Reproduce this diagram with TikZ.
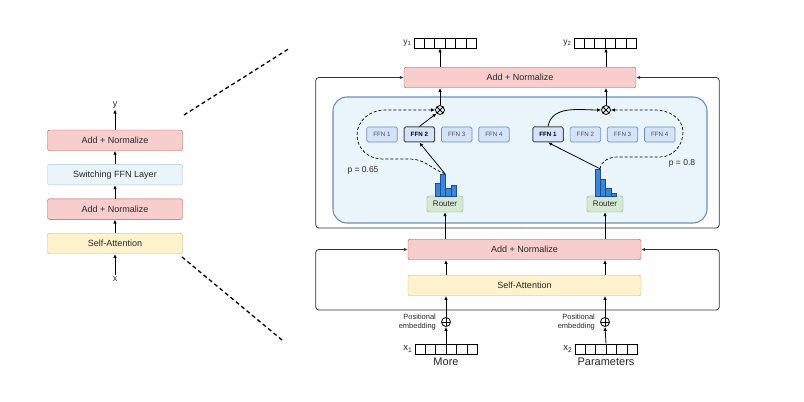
\documentclass[tikz,border=0pt]{standalone}
\usepackage{fontspec}
\setmainfont{Liberation Sans}
\usetikzlibrary{arrows.meta,positioning,calc}
\definecolor{normfill}{HTML}{F8CECC}
\definecolor{normline}{HTML}{B85450}
\definecolor{attnfill}{HTML}{FFF2CC}
\definecolor{attnline}{HTML}{D6B656}
\definecolor{switchfill}{HTML}{EAF4FB}
\definecolor{switchline}{HTML}{A9C4E0}
\definecolor{ffnfill}{HTML}{D4E3F8}
\definecolor{ffnline}{HTML}{6C8EBF}
\definecolor{moefill}{HTML}{E9F5FB}
\definecolor{routerfill}{HTML}{D5E8D4}
\definecolor{routerline}{HTML}{82B366}
\definecolor{barfill}{HTML}{3A86DC}
\definecolor{barline}{HTML}{1F4E8C}

\begin{document}
\begin{tikzpicture}[x=1pt, y=1pt, >={Latex[length=4pt,width=3.5pt]}, node distance=13.5pt,
 every node/.style={font=\fontsize{9}{10.5}\selectfont, align=center, inner sep=1pt, text=black!85},
 norm/.style={draw=normline, fill=normfill, rounded corners=2pt, minimum height=20.5pt},
 attn/.style={draw=attnline, fill=attnfill, rounded corners=2pt, minimum height=20.5pt},
 switch/.style={draw=switchline, fill=switchfill, rounded corners=2pt, minimum height=20.5pt},
 stack/.style={minimum width=135pt},
 ffn/.style={draw=ffnline, fill=ffnfill, line width=0.7pt, rounded corners=1.5pt, minimum width=30.5pt, minimum height=15pt, font=\fontsize{6.2}{7}\selectfont, text=black!70},
 ffnsel/.style={ffn, draw=black!70, line width=1pt, text=black, font=\fontsize{6.2}{7}\selectfont\bfseries},
 router/.style={draw=routerline, fill=routerfill, rounded corners=2pt, minimum width=36pt, minimum height=16pt, font=\fontsize{8}{9}\selectfont},
 vec/.style={draw, thick, minimum width=62pt, minimum height=10pt, inner sep=0pt},
 mult/.style={circle, draw, thick, minimum size=9pt, inner sep=0pt, path picture={
   \draw[thick] (path picture bounding box.north west) -- (path picture bounding box.south east)
     (path picture bounding box.south west) -- (path picture bounding box.north east);}},
 plus/.style={circle, draw, thick, minimum size=9pt, inner sep=0pt, path picture={
   \draw[thick] (path picture bounding box.north) -- (path picture bounding box.south)
     (path picture bounding box.west) -- (path picture bounding box.east);}},
 conn/.style={->, line width=0.8pt},
 route/.style={->, line width=0.7pt, dash pattern=on 3pt off 2pt},
 resid/.style={->, line width=0.8pt, draw=black!80, rounded corners=3pt},
 zoomline/.style={line width=1.3pt, dash pattern=on 4pt off 3pt},
 bar/.style={draw=barline, fill=barfill, line width=0.4pt},
 small/.style={font=\fontsize{8.5}{10}\selectfont}]
\useasboundingbox (0,0) rectangle (804,402);

% left: one layer
\node[attn, stack] (sa) at (115,158.5) {Self-Attention};
\node[norm, stack, above=of sa] (an1) {Add + Normalize};
\node[switch, stack, above=of an1] (sw) {Switching FFN Layer};
\node[norm, stack, above=of sw] (an2) {Add + Normalize};
\node (ylab) at (115,297) {y};
\node (xlab) at (115,123) {x};
\draw[conn] (xlab) -- (sa);
\draw[conn] (sa) -- (an1);
\draw[conn] (an1) -- (sw);
\draw[conn] (sw) -- (an2);
\draw[conn] (an2) -- (ylab);

% zoom lines
\coordinate (zt1) at (184,287);
\coordinate (zt2) at (290,354);
\coordinate (zb1) at (182,145);
\coordinate (zb2) at (282,62);
\draw[zoomline] (zt1) -- (zt2);
\draw[zoomline] (zb1) -- (zb2);

% right: switch layer
\node[draw=ffnline, fill=moefill, line width=1.1pt, rounded corners=14pt, minimum width=374pt, minimum height=126pt] (moe) at (520,242) {};
\node[norm, minimum width=232pt] (antop) at (520,324.5) {Add + Normalize};
\node[norm, minimum width=233pt] (anlow) at (524.5,152.5) {Add + Normalize};
\node[attn, minimum width=233pt] (sabig) at (524.5,116.5) {Self-Attention};

\node[ffn] (fl1) at (382,267.5) {FFN 1};
\node[ffnsel, right=6pt of fl1] (fl2) {FFN 2};
\node[ffn, right=6pt of fl2] (fl3) {FFN 3};
\node[ffn, right=6pt of fl3] (fl4) {FFN 4};
\node[ffnsel] (fr1) at (548,267.5) {FFN 1};
\node[ffn, right=6pt of fr1] (fr2) {FFN 2};
\node[ffn, right=6pt of fr2] (fr3) {FFN 3};
\node[ffn, right=6pt of fr3] (fr4) {FFN 4};

\node[router] (rt1) at (445,198) {Router};
\node[router] (rt2) at (605,198) {Router};
\foreach \h [count=\i from 0] in {13,22,8,11}
  \draw[bar] ($(rt1.north)+(-10+5.25*\i,0)$) rectangle ++(5.25,\h);
\foreach \h [count=\i from 0] in {27,17,8,3}
  \draw[bar] ($(rt2.north)+(-10+5.25*\i,0)$) rectangle ++(5.25,\h);
\coordinate (h1top) at ($(rt1.north)+(0,22)$);
\coordinate (h2top) at ($(rt2.north)+(-5,27)$);

\node[mult] (mult1) at (440,292) {};
\node[mult] (mult2) at (606,292) {};
\node[plus] (pl1) at (446,80) {};
\node[plus] (pl2) at (605,80) {};

\node[vec] (yv1) at (445,359) {};
\node[vec] (yv2) at (605,359) {};
\node[vec] (xv1) at (446,53) {};
\node[vec] (xv2) at (606,53) {};
\foreach \v in {yv1,yv2,xv1,xv2}
  \foreach \i in {1,...,5}
    \draw[thick] ($(\v.south west)!\i/6!(\v.south east)$) -- ($(\v.north west)!\i/6!(\v.north east)$);
\node[left=1pt of yv1, font=\fontsize{8.5}{10}\selectfont] (y1lab) {y\textsubscript{1}};
\node[left=1pt of yv2, font=\fontsize{8.5}{10}\selectfont] (y2lab) {y\textsubscript{2}};
\node[left=1pt of xv1, font=\fontsize{9.5}{11}\selectfont] (x1lab) {x\textsubscript{1}};
\node[left=1pt of xv2, font=\fontsize{9.5}{11}\selectfont] (x2lab) {x\textsubscript{2}};
\node[below=2pt of xv1, font=\fontsize{11}{13}\selectfont] (w1) {More};
\node[below=2pt of xv2, font=\fontsize{11}{13}\selectfont] (w2) {Parameters};
\node[left=4pt of pl1, align=right, font=\fontsize{7.5}{9.5}\selectfont] (pe1) {Positional\\embedding};
\node[left=4pt of pl2, align=right, font=\fontsize{7.5}{9.5}\selectfont] (pe2) {Positional\\embedding};
\node[small] (p1) at (363,232) {p = 0.65};
\node[small] (p2) at (682,239) {p = 0.8};

% token columns
\draw[conn] (xv1.north) -- (pl1.south);
\draw[conn] (xv2.north) -- (pl2.south);
\draw[conn] (pl1.north) -- (pl1 |- sabig.south);
\draw[conn] (pl2.north) -- (pl2 |- sabig.south);
\draw[conn] (sabig.north -| pl1) -- (pl1 |- anlow.south);
\draw[conn] (sabig.north -| pl2) -- (pl2 |- anlow.south);
\draw[conn] (anlow.north -| rt1) -- (rt1.south);
\draw[conn] (anlow.north -| rt2) -- (rt2.south);
\draw[conn] (mult1.north) -- (mult1 |- antop.south);
\draw[conn] (mult2.north) -- (mult2 |- antop.south);
\draw[conn] (antop.north -| mult1) -- (mult1 |- yv1.south);
\draw[conn] (antop.north -| mult2) -- (mult2 |- yv2.south);

% routing
\draw[conn] (h1top) -- (fl2.south);
\draw[conn] (fl2.north) -- (mult1.south west);
\draw[conn] (h2top) -- (fr1.south);
\draw[conn] (fr1.north) to[out=80, in=180] (mult2.west);
\draw[route] (h1top) to[out=160, in=0] (410,243) -- (382,243) to[out=180, in=-90] (357,267) to[out=90, in=180] (385,292) -- (mult1.west);
\draw[route] (h2top) to[out=80, in=180] (618,245) -- (660,245) to[out=0, in=-90] (683,270) to[out=90, in=0] (655,292) -- (mult2.east);

% residuals
\coordinate (res2) at (520,174);
\coordinate (res1) at (524,92);
\draw[resid] (res2) -| ([xshift=-88pt]antop.west) -- (antop.west);
\draw[resid] (res2) -| ([xshift=83pt]antop.east) -- (antop.east);
\draw[resid] (res1) -| ([xshift=-92pt]anlow.west) -- (anlow.west);
\draw[resid] (res1) -| ([xshift=78pt]anlow.east) -- (anlow.east);
\end{tikzpicture}
\end{document}
